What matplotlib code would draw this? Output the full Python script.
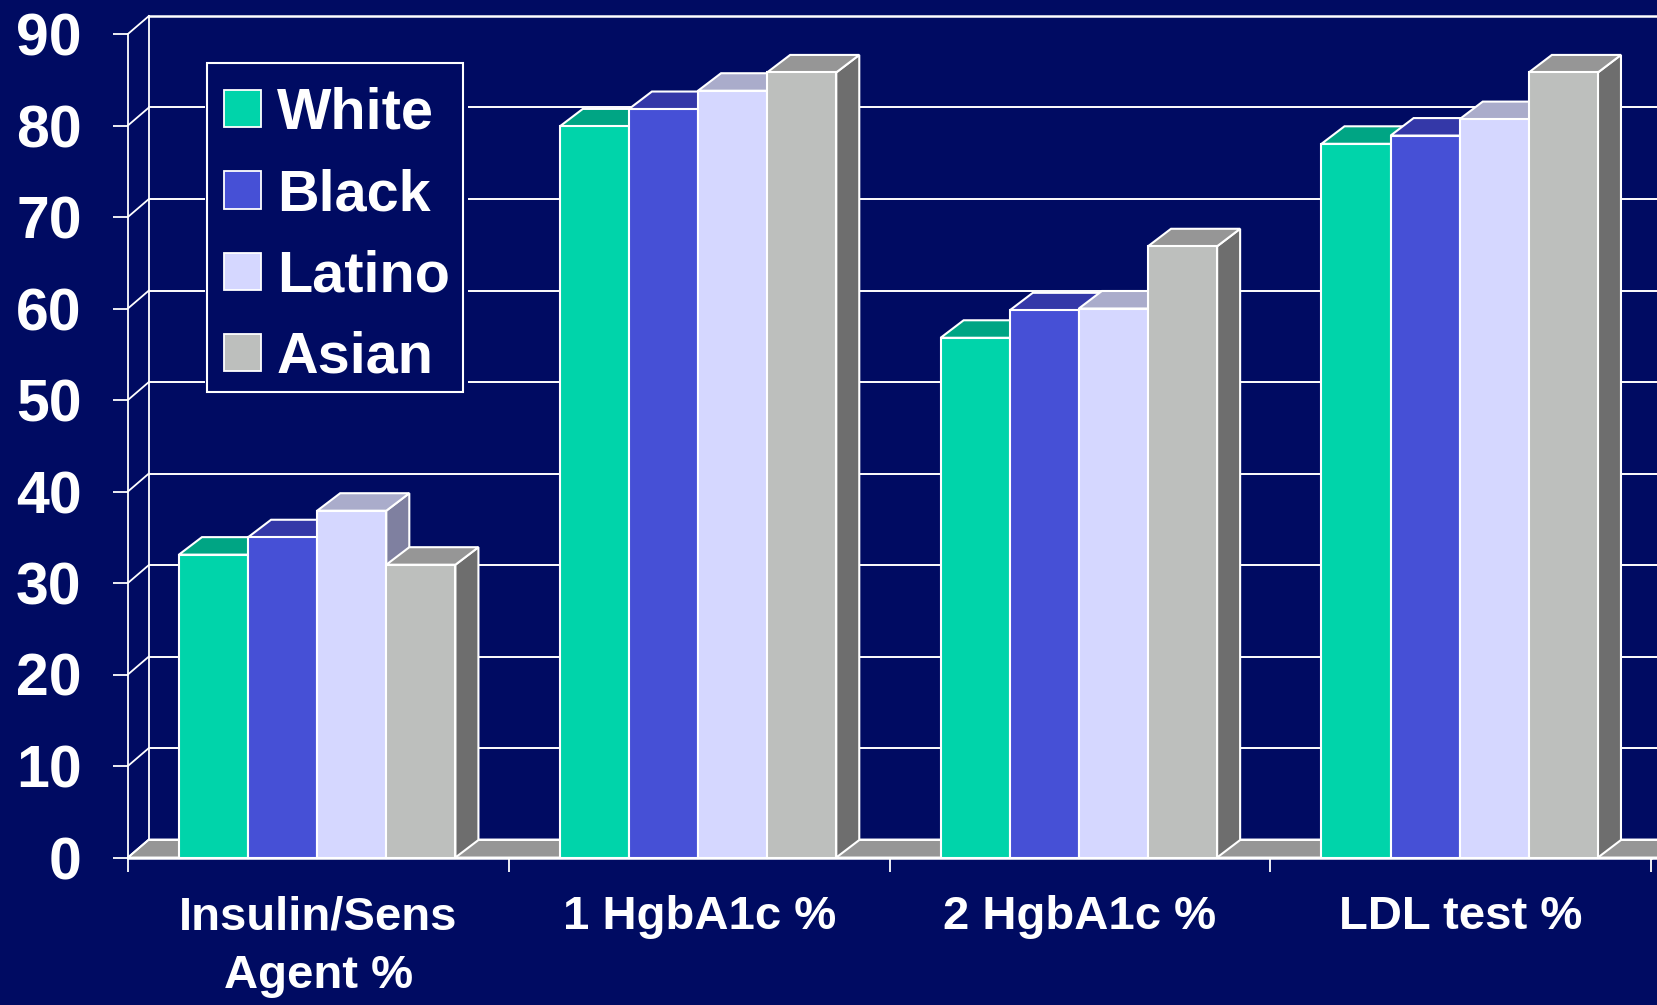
import matplotlib
matplotlib.use('Agg')
from matplotlib import pyplot as plt
from matplotlib.patches import Patch, Polygon, Rectangle

plt.rcParams['font.family'] = ['Liberation Sans', 'DejaVu Sans']
plt.rcParams['font.weight'] = 'bold'

categories = ['Insulin/Sens\nAgent %', '1 HgbA1c %', '2 HgbA1c %', 'LDL test %']
groups = ['White', 'Black', 'Latino', 'Asian']
white = [33.1, 79.9, 56.8, 78]
black = [35, 81.8, 59.8, 78.9]
latino = [37.9, 83.8, 60, 80.7]
asian = [32, 85.8, 66.8, 85.8]
yticks = [0, 10, 20, 30, 40, 50, 60, 70, 80, 90]

series = [white, black, latino, asian]
front_colors = ['#00D4AA', '#4650D6', '#D5D7FF', '#BDBFBD']
top_colors = ['#00A584', '#3438A8', '#AAACCB', '#969696']
side_colors = ['#008A6E', '#2C3090', '#7F80A0', '#6E6E6E']
bg = '#000B62'
grey_floor = '#969696'

W, H = 1658, 1005
y_zero = 857.5
y_top = 34
x_left = 127.9
x_right = 1651.3
fig = plt.figure(figsize=(W / 100, H / 100), dpi=100, facecolor=bg)
ax = fig.add_axes([x_left / W, 1 - y_zero / H, (x_right - x_left) / W, (y_zero - y_top) / H])
ax.set_facecolor('none')
ax.set_xlim(0, 4)
ax.set_ylim(0, 90)

# depth of the fake 3D, in data units
px_x = (x_right - x_left) / 4
px_y = (y_zero - y_top) / 90
dx = 21 / px_x
dy = 18 / px_y
bar_dx = 23 / px_x
bar_dy = 17.5 / px_y
bar_w = 0.1815
margin = 0.134

# floor
ax.add_patch(Polygon([(0, 0), (dx, dy), (4 + 2 * dx, dy), (4 + dx, 0)], closed=True,
                     facecolor=grey_floor, edgecolor='white', lw=1.4,
                     clip_on=False, zorder=1))

# back wall and the diagonals on the side wall
for v in yticks:
    lw = 1.8 if v == 90 else 1.4
    ax.plot([dx, 4 + 2 * dx], [v + dy, v + dy], color='white', lw=lw, clip_on=False, zorder=1.5)
    ax.plot([0, dx], [v, v + dy], color='white', lw=1.3, clip_on=False, zorder=1.5)
ax.plot([dx, dx], [dy, 90 + dy], color='white', lw=1.3, clip_on=False, zorder=1.5)
ax.plot([0, 0], [0, 90], color='white', lw=1.3, clip_on=False, zorder=1.5)

# bars, left to right so the taller neighbours cover the sides
for i in range(len(categories)):
    for j in range(len(groups)):
        v = series[j][i]
        x0 = i + margin + j * bar_w
        x1 = x0 + bar_w
        ax.add_patch(Polygon([(x1, 0), (x1 + bar_dx, bar_dy), (x1 + bar_dx, v + bar_dy), (x1, v)],
                             closed=True, facecolor=side_colors[j], edgecolor='white', lw=1.5,
                             clip_on=False, zorder=2))
        ax.add_patch(Polygon([(x0, v), (x0 + bar_dx, v + bar_dy), (x1 + bar_dx, v + bar_dy), (x1, v)],
                             closed=True, facecolor=top_colors[j], edgecolor='white', lw=1.5,
                             clip_on=False, zorder=2))
        ax.add_patch(Rectangle((x0, 0), bar_w, v, facecolor=front_colors[j], edgecolor='white',
                               lw=1.5, clip_on=False, zorder=2))

# axes
for name in ['top', 'right', 'left']:
    ax.spines[name].set_visible(False)
ax.spines['bottom'].set_color('white')
ax.spines['bottom'].set_linewidth(1.8)
ax.spines['bottom'].set_zorder(3)
ax.plot([4, 4 + dx], [0, 0], color='white', lw=1.8, clip_on=False, zorder=3)

ax.set_yticks(yticks)
ax.tick_params(axis='y', colors='white', length=10.8, width=1.3, pad=22.5, labelsize=42.5)
ax.set_xticks([0, 1, 2, 3, 4])
ax.set_xticklabels([])
ax.tick_params(axis='x', which='major', colors='white', length=10, width=1.3)
ax.set_xticks([0.5, 1.5, 2.5, 3.5], minor=True)
ax.set_xticklabels(categories, minor=True, color='white', fontsize=34, linespacing=1.44)
ax.tick_params(axis='x', which='minor', length=0, pad=27)

# legend, a patch cuts the grid lines and a second one is the frame
fig.add_artist(Rectangle((205 / W, 1 - 395 / H), 263 / W, 335 / H, transform=fig.transFigure,
                         facecolor=bg, edgecolor='none', zorder=4))
fig.add_artist(Rectangle((207 / W, 1 - 391.5 / H), 256 / W, 328 / H, transform=fig.transFigure,
                         facecolor=bg, edgecolor='white', lw=1.5, zorder=4.5))
handles = [Patch(facecolor=front_colors[j], edgecolor='white', lw=1.3) for j in range(4)]
leg = fig.legend(handles, groups, loc='upper left', bbox_to_anchor=(207 / W, 1 - 69.5 / H),
                 bbox_transform=fig.transFigure, borderaxespad=0, fontsize=41.5, labelcolor='white',
                 frameon=False, handlelength=0.64, handleheight=0.62, handletextpad=0.27,
                 labelspacing=0.475, borderpad=0.3)
leg.set_zorder(5)

fig.savefig('out.png', dpi=100, facecolor=bg)
